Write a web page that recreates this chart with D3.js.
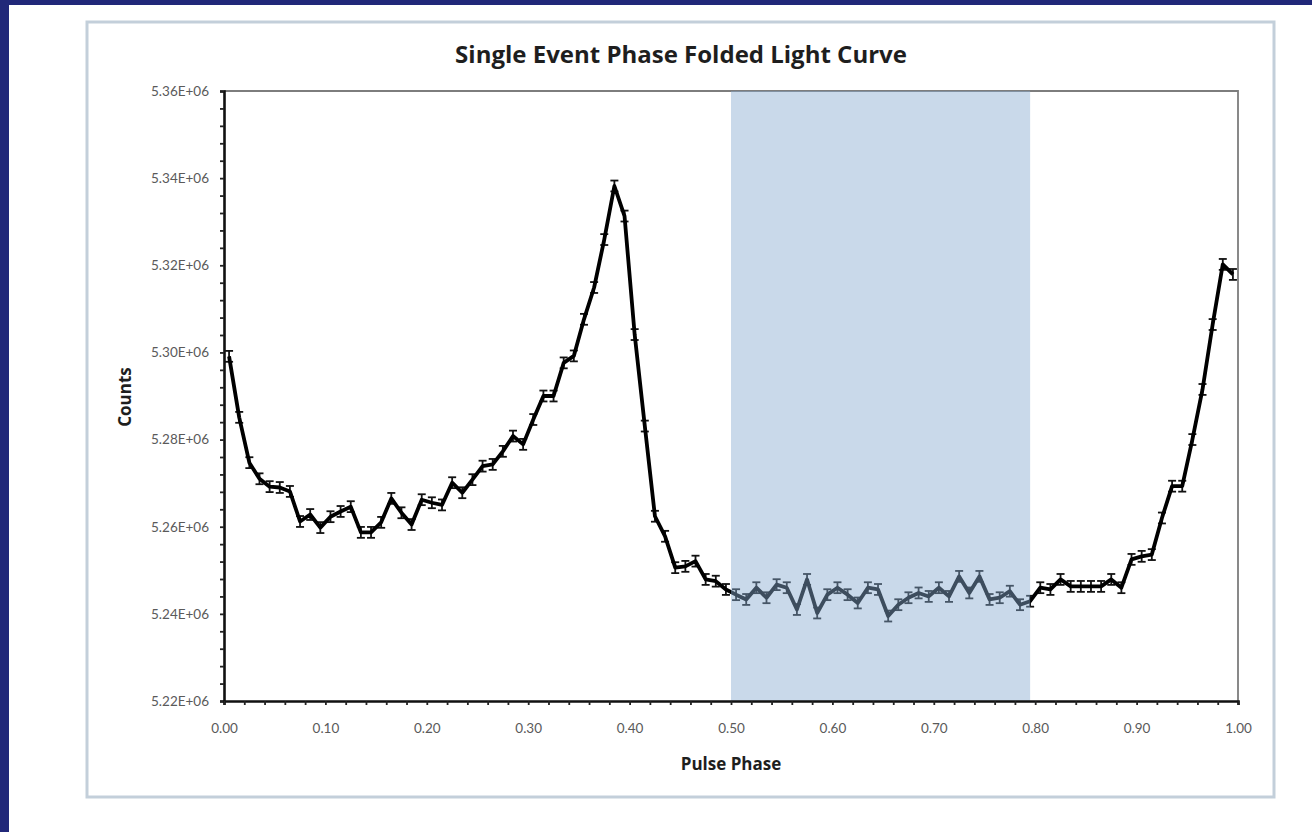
<!DOCTYPE html>
<html>
<head>
<meta charset="utf-8">
<script src="https://cdn.jsdelivr.net/npm/d3@7/dist/d3.min.js"></script>
<style>
  html, body { margin: 0; padding: 0; background: #212879; }
  svg { display: block; }
</style>
</head>
<body>
<svg id="chart" width="1312" height="832"></svg>
<script>
// Pulse phase bin centres
const phase = [
  0.005, 0.015, 0.025, 0.035, 0.045, 0.055, 0.065, 0.075, 0.085, 0.095,
  0.105, 0.115, 0.125, 0.135, 0.145, 0.155, 0.165, 0.175, 0.185, 0.195,
  0.205, 0.215, 0.225, 0.235, 0.245, 0.255, 0.265, 0.275, 0.285, 0.295,
  0.305, 0.315, 0.325, 0.335, 0.345, 0.355, 0.365, 0.375, 0.385, 0.395,
  0.405, 0.415, 0.425, 0.435, 0.445, 0.455, 0.465, 0.475, 0.485, 0.495,
  0.505, 0.515, 0.525, 0.535, 0.545, 0.555, 0.565, 0.575, 0.585, 0.595,
  0.605, 0.615, 0.625, 0.635, 0.645, 0.655, 0.665, 0.675, 0.685, 0.695,
  0.705, 0.715, 0.725, 0.735, 0.745, 0.755, 0.765, 0.775, 0.785, 0.795,
  0.805, 0.815, 0.825, 0.835, 0.845, 0.855, 0.865, 0.875, 0.885, 0.895,
  0.905, 0.915, 0.925, 0.935, 0.945, 0.955, 0.965, 0.975, 0.985, 0.995
];

// Folded counts per phase bin
const counts = [
  5299100, 5285100, 5274700, 5271000, 5269200, 5269000, 5268100, 5261200, 5262800, 5259800,
  5262300, 5263500, 5264600, 5258700, 5258700, 5261000, 5266500, 5263200, 5260500, 5266200,
  5265500, 5265000, 5270100, 5267800, 5270800, 5273900, 5274300, 5277300, 5280800, 5278900,
  5284600, 5290000, 5290000, 5297600, 5299200, 5307600, 5314900, 5325900, 5338200, 5331300,
  5304100, 5283100, 5262400, 5257800, 5250600, 5250900, 5252100, 5247900, 5247500, 5245600,
  5244400, 5243300, 5246000, 5243700, 5246700, 5246000, 5241000, 5247900, 5240200, 5244400,
  5246000, 5244400, 5242500, 5246000, 5245600, 5239500, 5242100, 5243700, 5244800, 5244000,
  5246000, 5244000, 5248600, 5244800, 5248600, 5243300, 5243700, 5245200, 5242100, 5242900,
  5246000, 5245600, 5247900, 5246300, 5246300, 5246300, 5246300, 5247900, 5246000, 5252500,
  5253200, 5253600, 5262000, 5269300, 5269300, 5280000, 5291500, 5306400, 5320200, 5317900
];

// One-sigma error on each bin
const countError = 1250;

// Highlighted phase interval
const bandPhase = [0.50, 0.795];

// Axis ticks
const yTickValues = [5220000, 5240000, 5260000, 5280000, 5300000, 5320000, 5340000, 5360000];
const xTickValues = [0.0, 0.1, 0.2, 0.3, 0.4, 0.5, 0.6, 0.7, 0.8, 0.9, 1.0];

const title = "Single Event Phase Folded Light Curve";
const xTitle = "Pulse Phase";
const yTitle = "Counts";

const svg = d3.select("#chart");
const font = "'Open Sans', Lato, 'DejaVu Sans', sans-serif";
const tickFont = "Lato, 'Open Sans', sans-serif";

// page panel
svg.append("rect").attr("x", 9).attr("y", 5).attr("width", 1303).attr("height", 827).attr("fill", "#ffffff");
// chart frame
svg.append("rect").attr("x", 87).attr("y", 22).attr("width", 1187).attr("height", 775)
  .attr("fill", "#ffffff").attr("stroke", "#c3cfda").attr("stroke-width", 3);

const plot = { left: 224, right: 1238, top: 91, bottom: 701 };

const x = d3.scaleLinear().domain([0, 1]).range([plot.left, plot.right]);
const y = d3.scaleLinear().domain([5220000, 5360000]).range([plot.bottom, plot.top]);

// plot-area outline (top and right)
svg.append("path")
  .attr("d", `M${plot.left},${plot.top}H${plot.right}V${plot.bottom}`)
  .attr("fill", "none").attr("stroke", "#7d7d7d").attr("stroke-width", 1.8);

// error bars
const eb = svg.append("g").attr("stroke", "#111").attr("stroke-width", 1.8);
phase.forEach((p, i) => {
  const cx = x(p), y0 = y(counts[i] - countError), y1 = y(counts[i] + countError);
  eb.append("line").attr("x1", cx).attr("x2", cx).attr("y1", y0).attr("y2", y1);
  eb.append("line").attr("x1", cx - 4).attr("x2", cx + 4).attr("y1", y0).attr("y2", y0);
  eb.append("line").attr("x1", cx - 4).attr("x2", cx + 4).attr("y1", y1).attr("y2", y1);
});

// light curve
const line = d3.line().x((d, i) => x(phase[i])).y(d => y(d));
svg.append("path").datum(counts)
  .attr("d", line)
  .attr("fill", "none").attr("stroke", "#000").attr("stroke-width", 3.8)
  .attr("stroke-linejoin", "round");

// highlighted phase band, translucent over the curve
svg.append("rect")
  .attr("x", x(bandPhase[0])).attr("y", plot.top)
  .attr("width", x(bandPhase[1]) - x(bandPhase[0]))
  .attr("height", plot.bottom - plot.top)
  .attr("fill", "rgb(135,170,208)").attr("fill-opacity", 0.45);

// y axis
const yMinor = d3.range(5220000, 5360001, 4000);
const yAxis = d3.axisLeft(y).tickValues(yMinor).tickSize(4)
  .tickFormat(d => yTickValues.includes(d) ? (d / 1e6).toFixed(2) + "E+06" : "");
const gy = svg.append("g").attr("transform", `translate(${plot.left},0)`).call(yAxis);
gy.select(".domain").attr("stroke", "#111").attr("stroke-width", 2.6);
gy.selectAll(".tick line").attr("stroke", "#222").attr("stroke-width", 1.8);
gy.selectAll(".tick text").attr("font-family", tickFont).attr("font-size", 13.5)
  .attr("fill", "#5a5a5a").attr("x", -15);

// x axis
const xMinor = d3.range(0, 50.5, 1).map(k => k / 50);
const xAxis = d3.axisBottom(x).tickValues(xMinor).tickSize(4)
  .tickFormat(d => xTickValues.some(v => Math.abs(v - d) < 1e-9) ? d.toFixed(2) : "");
const gx = svg.append("g").attr("transform", `translate(0,${plot.bottom})`).call(xAxis);
gx.select(".domain").attr("stroke", "#111").attr("stroke-width", 2.6);
gx.selectAll(".tick line").attr("stroke", "#222").attr("stroke-width", 1.8);
gx.selectAll(".tick text").attr("font-family", tickFont).attr("font-size", 13.5)
  .attr("fill", "#5a5a5a").attr("y", 22);

// titles
svg.append("text").attr("x", 681).attr("y", 63).attr("text-anchor", "middle")
  .attr("font-family", font).attr("font-weight", 700).attr("font-size", 24)
  .attr("fill", "#1e1e1e").text(title);
svg.append("text").attr("x", 731).attr("y", 770).attr("text-anchor", "middle")
  .attr("font-family", font).attr("font-weight", 700).attr("font-size", 17)
  .attr("fill", "#1e1e1e").text(xTitle);
svg.append("text").attr("transform", "translate(131,397) rotate(-90)").attr("text-anchor", "middle")
  .attr("font-family", font).attr("font-weight", 700).attr("font-size", 17)
  .attr("fill", "#1e1e1e").text(yTitle);
</script>
</body>
</html>
